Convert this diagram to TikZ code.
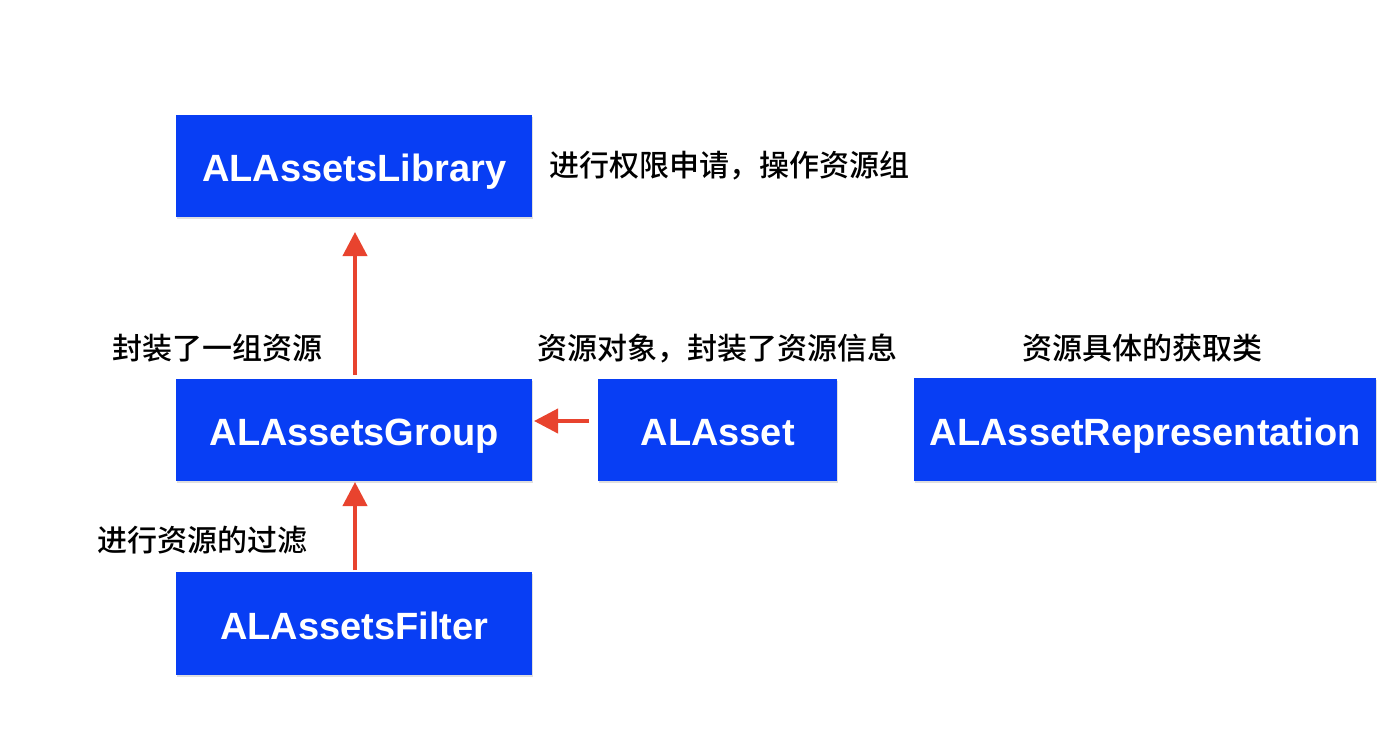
\documentclass[tikz,border=0pt]{standalone}
\usepackage{fontspec}
\setmainfont{Liberation Sans}
\newfontfamily\cjk{Noto Sans CJK SC Medium}
\usetikzlibrary{arrows.meta,shadows}
\definecolor{boxblue}{RGB}{8,62,244}
\definecolor{arrred}{RGB}{232,67,46}
\tikzset{
  cls/.style={fill=boxblue, draw=none, text=white, font=\fontsize{38}{40}\selectfont\bfseries,
    inner sep=0pt, anchor=north west, text height=31pt, text depth=0pt,
    drop shadow={opacity=0.25, shadow xshift=1pt, shadow yshift=-2pt}},
  lbl/.style={font=\cjk\fontsize{30}{32}\selectfont, inner sep=0pt, text=black},
  arr/.style={draw=arrred, line width=4pt, -{Triangle[width=24pt,length=24pt]}}
}
\begin{document}
\begin{tikzpicture}[x=1pt,y=-1pt]
\useasboundingbox[fill=white] (0,0) rectangle (1400,740);
\node[cls, minimum width=356pt, minimum height=102pt] (lib) at (176,115) {ALAssetsLibrary};
\node[cls, minimum width=356pt, minimum height=102pt] (grp) at (176,379) {ALAssetsGroup};
\node[cls, minimum width=356pt, minimum height=103pt] (flt) at (176,572) {ALAssetsFilter};
\node[cls, minimum width=239pt, minimum height=102pt] (ast) at (598,379) {ALAsset};
\node[cls, minimum width=462pt, minimum height=103pt] (rep) at (914,378) {ALAssetRepresentation};

\node[lbl, anchor=west] (t1) at (549,166) {进行权限申请，操作资源组};
\node[lbl] (t2) at (217,348) {封装了一组资源};
\node[lbl] (t3) at (717,348) {资源对象，封装了资源信息};
\node[lbl] (t4) at (1142,348) {资源具体的获取类};
\node[lbl] (t5) at (202,540) {进行资源的过滤};

\coordinate (a1s) at (355,375);
\coordinate (a1e) at (355,232);
\coordinate (a2s) at (355,570);
\coordinate (a2e) at (355,482);
\coordinate (a3s) at (589,421);
\coordinate (a3e) at (534,421);
\draw[arr] (a1s) -- (a1e);
\draw[arr] (a2s) -- (a2e);
\draw[arr] (a3s) -- (a3e);
\end{tikzpicture}
\end{document}
